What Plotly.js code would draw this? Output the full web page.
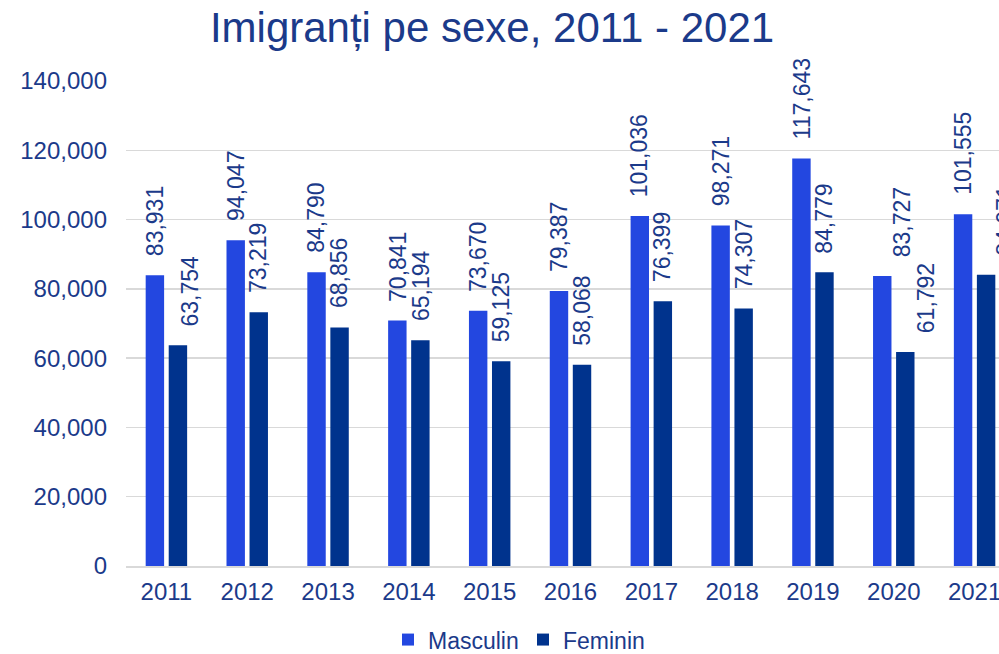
<!DOCTYPE html>
<html><head><meta charset="utf-8">
<script src="https://cdn.plot.ly/plotly-3.0.1.min.js"></script>
<style>html,body{margin:0;padding:0;overflow:hidden;width:999px;height:654px;background:#fff}</style>
</head><body><div id="chart"></div>
<script>
const years = ['2011','2012','2013','2014','2015','2016','2017','2018','2019','2020','2021'];
const masculin = [83931, 94047, 84790, 70841, 73670, 79387, 101036, 98271, 117643, 83727, 101555];
const feminin  = [63754, 73219, 68856, 65194, 59125, 58068, 76399, 74307, 84779, 61792, 84071];
const yTicks = [0, 20000, 40000, 60000, 80000, 100000, 120000, 140000];

const txtColor = '#1B3A8A';
const FONT = 'Liberation Sans, Arial, sans-serif';
const fmt = v => v.toLocaleString('en-US');

// small manual label nudges (px) as in the reference, where some labels sit beside their bar
const nudgeM = {'2020': 20};
const nudgeF = {'2011': 12, '2020': 21, '2021': 19};

const data = [
  {type: 'bar', name: 'Masculin', x: years, y: masculin, marker: {color: '#2347E0'}},
  {type: 'bar', name: 'Feminin', x: years, y: feminin, marker: {color: '#00338D'}}
];

// on a category axis, annotation x is the category's serial number
const annotations = [];
years.forEach((yr, i) => {
  annotations.push({x: i, y: masculin[i], xref: 'x', yref: 'y', text: fmt(masculin[i]), showarrow: false,
    textangle: -90, xanchor: 'center', yanchor: 'bottom', xshift: -11.5 + (nudgeM[yr] || 0), yshift: 17,
    font: {family: FONT, size: 23, color: txtColor}});
  annotations.push({x: i, y: feminin[i], xref: 'x', yref: 'y', text: fmt(feminin[i]), showarrow: false,
    textangle: -90, xanchor: 'center', yanchor: 'bottom', xshift: 11.5 + (nudgeF[yr] || 0), yshift: 17,
    font: {family: FONT, size: 23, color: txtColor}});
});

const layout = {
  width: 1030, height: 654,
  margin: {l: 126, r: 15, t: 81, b: 88},
  paper_bgcolor: '#fff', plot_bgcolor: '#fff',
  font: {family: FONT, color: txtColor, size: 24},
  title: {text: 'Imigranți pe sexe, 2011 - 2021', font: {family: FONT, size: 42, color: '#1B3A8A'},
          xref: 'container', x: 0.4777, xanchor: 'center', yref: 'container', y: 0.9587, yanchor: 'middle'},
  barmode: 'group', bargap: 0.43, bargroupgap: 0.2,
  xaxis: {type: 'category', range: [-0.5, 10.5], showgrid: false, zeroline: false, showline: true,
          linecolor: '#d9d9d9', linewidth: 1.5, ticks: '', ticklabelstandoff: 4,
          tickfont: {family: FONT, size: 24, color: txtColor}},
  yaxis: {range: [0, 140000], tickvals: yTicks, ticktext: yTicks.map(fmt), showgrid: true,
          gridcolor: '#d9d9d9', gridwidth: 1.5, zeroline: false, ticks: '', ticklabelstandoff: 18,
          tickfont: {family: FONT, size: 24, color: txtColor}},
  legend: {orientation: 'h', xref: 'container', x: 0.3767, xanchor: 'left', yref: 'container', y: 0.022, yanchor: 'middle',
           font: {family: FONT, size: 23, color: txtColor}, entrywidth: 90, traceorder: 'normal'},
  annotations: annotations,
  showlegend: true
};
Plotly.newPlot('chart', data, layout, {displayModeBar: false, staticPlot: true});
</script></body></html>
